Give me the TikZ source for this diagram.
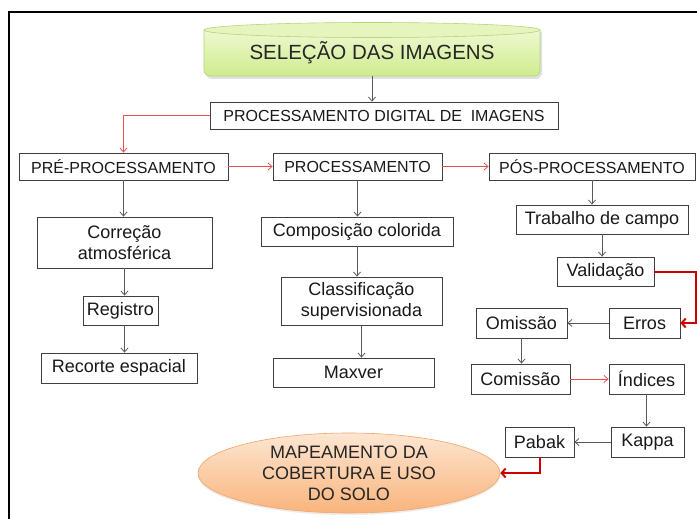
\documentclass[tikz,border=0pt]{standalone}
\usepackage{fontspec}
\setmainfont{Liberation Sans}
\usetikzlibrary{arrows.meta,shapes.geometric,shadows}
\definecolor{boxgray}{HTML}{3F3F3F}
\definecolor{linegray}{HTML}{595959}
\definecolor{redlight}{HTML}{E8504F}
\definecolor{reddark}{HTML}{CC0000}
\definecolor{greentop}{HTML}{EEF8D0}
\definecolor{greenbot}{HTML}{CFEC8E}
\definecolor{greenrim}{HTML}{E6F5BE}
\definecolor{greenedge}{HTML}{B3D67A}
\definecolor{orangetop}{HTML}{FDE6D2}
\definecolor{orangebot}{HTML}{F9B47C}
\definecolor{orangeedge}{HTML}{F4A468}
\newcommand\fsHead{\fontsize{16}{19}\selectfont}
\newcommand\fsBox{\fontsize{18}{21}\selectfont}
\newcommand\fsSel{\fontsize{20.5}{24}\selectfont}
\begin{document}
\begin{tikzpicture}[x=1pt,y=-1pt,
  box/.style={draw=boxgray, line width=0.8pt, fill=white, inner sep=0pt, align=center, text=black!90},
  headbox/.style={box, font=\fsHead, minimum height=27pt},
  lowbox/.style={box, font=\fsBox},
  conn/.style={draw=linegray, line width=0.8pt, -{Straight Barb[length=4pt,width=7pt]}},
  redthin/.style={draw=redlight, line width=0.8pt, -{Straight Barb[length=4pt,width=7pt]}},
  redthick/.style={draw=reddark, line width=2pt, -{Straight Barb[length=4pt,width=9pt]}}]
\useasboundingbox (0,0) rectangle (697,519);
\fill[white] (0,0) rectangle (697,519);
% frame
\draw[line width=2pt, black] (9,519) -- (9,12) -- (697,12);
% green cylinder
\fill[black, opacity=0.12] (206,32) -- (206,73) arc[start angle=180, end angle=90, radius=6] -- (536,79) arc[start angle=90, end angle=0, radius=6] -- (542,32) -- cycle;
\path[draw=greenedge, line width=0.6pt, top color=greentop, bottom color=greenbot]
  (204,30) -- (204,70) arc[start angle=180, end angle=90, radius=6] -- (534,76) arc[start angle=90, end angle=0, radius=6] -- (540,30) -- cycle;
\path[draw=greenedge, line width=0.6pt, fill=greenrim] (372,30) ellipse [x radius=168, y radius=7.5];
\node[inner sep=0pt, minimum width=336pt, minimum height=45pt, font=\fsSel, text=black!85] (sel) at (372,53) {SELEÇÃO DAS IMAGENS};
% row 1
\node[headbox, minimum width=348pt] (pdi) at (384,115.5) {PROCESSAMENTO DIGITAL DE\hspace{0.55em}IMAGENS};
\node[headbox, minimum width=209pt] (pre) at (123.5,166.5) {PRÉ-PROCESSAMENTO};
\node[headbox, minimum width=169pt] (proc) at (357.5,166.5) {PROCESSAMENTO};
\node[headbox, minimum width=206pt] (pos) at (592,166.5) {PÓS-PROCESSAMENTO};
% left column
\node[lowbox, minimum width=175pt, minimum height=51pt] (corr) at (124.5,242.5) {Correção\\atmosférica};
\node[lowbox, minimum width=75pt, minimum height=29pt] (reg) at (120.5,310.5) {Registro};
\node[lowbox, minimum width=156pt, minimum height=30pt] (rec) at (119,368) {Recorte espacial};
% middle column
\node[lowbox, minimum width=192pt, minimum height=29pt] (comp) at (357,231.5) {Composição colorida};
\node[lowbox, minimum width=161pt, minimum height=48pt] (class) at (361.5,301) {Classificação\\supervisionada};
\node[lowbox, minimum width=161pt, minimum height=29pt] (maxv) at (353.5,372.5) {Maxver};
% right column
\node[lowbox, minimum width=172pt, minimum height=29pt] (trab) at (602,219.5) {Trabalho de campo};
\node[lowbox, minimum width=97pt, minimum height=29pt] (val) at (605.5,271.5) {Validação};
\node[lowbox, minimum width=71pt, minimum height=30pt] (erros) at (644.5,323) {Erros};
\node[lowbox, minimum width=91pt, minimum height=30pt] (omis) at (521.5,323) {Omissão};
\node[lowbox, minimum width=99pt, minimum height=30pt] (comis) at (520.5,379) {Comissão};
\node[lowbox, minimum width=75pt, minimum height=30pt] (ind) at (646.5,379) {Índices};
\node[lowbox, minimum width=73pt, minimum height=30pt] (kappa) at (647.5,442) {Kappa};
\node[lowbox, minimum width=69pt, minimum height=30pt] (pabak) at (539.5,442) {Pabak};
% final ellipse
\node[ellipse, inner sep=0pt, minimum width=302pt, minimum height=80pt, draw=orangeedge, line width=0.6pt,
  top color=orangetop, bottom color=orangebot, align=center, font=\fsBox, text=black!85,
  drop shadow={opacity=0.15, shadow xshift=0pt, shadow yshift=-2pt}] (map) at (349,473)
  {MAPEAMENTO DA\\COBERTURA E USO\\DO SOLO};
% connectors
\coordinate (vr) at (696,271.5);
\draw[conn] (sel.south) -- (sel.south |- pdi.north);
\draw[redthin] (pdi.west) -| (pre.north);
\draw[redthin] (pre.east) -- (proc.west);
\draw[redthin] (proc.east) -- (pos.west);
\draw[conn] (pre.south) -- (pre.south |- corr.north);
\draw[conn] (corr.south) -- (corr.south |- reg.north);
\draw[conn] (corr.south |- reg.south) -- (corr.south |- rec.north);
\draw[conn] (proc.south) -- (proc.south |- comp.north);
\draw[conn] (comp.south) -- (comp.south |- class.north);
\draw[conn] (class.south) -- (class.south |- maxv.north);
\draw[conn] (pos.south) -- (pos.south |- trab.north);
\draw[conn] (trab.south) -- (trab.south |- val.north);
\draw[redthick] (val.east) -- (vr) |- (erros.east);
\draw[conn] (erros.west) -- (omis.east);
\draw[conn] (omis.south) -- (omis.south |- comis.north);
\draw[redthin] (comis.east) -- (ind.west);
\draw[conn] (ind.south) -- (ind.south |- kappa.north);
\draw[conn] (kappa.west) -- (pabak.east);
\draw[redthick] (pabak.south) |- (map.east);
\end{tikzpicture}
\end{document}
